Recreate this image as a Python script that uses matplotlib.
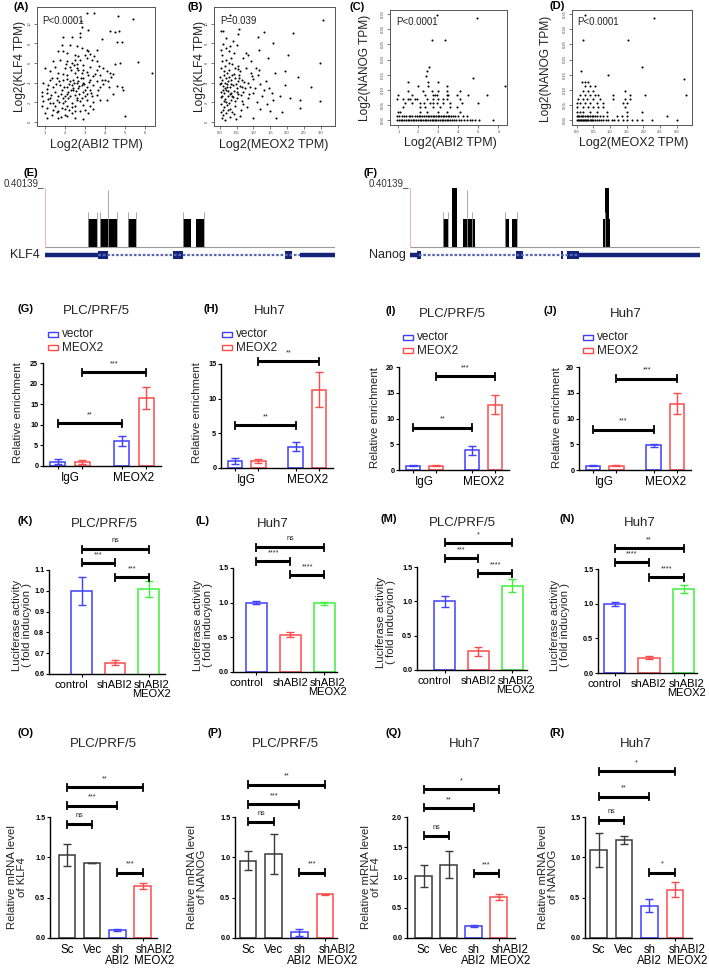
import matplotlib
matplotlib.use('Agg')
import matplotlib.pyplot as plt
import numpy as np

W, H = 709, 975
plt.rcParams['font.family'] = ['Liberation Sans', 'DejaVu Sans']
fig = plt.figure(figsize=(W / 100, H / 100), dpi=100)

# ---------------- data: scatter panels ----------------
pts_A = [(3.12,11.1),(3.47,11.1),(4.67,10.8),(5.42,10.5),(2.82,10.3),(2.83,9.7),(3.17,9.4),(4.25,9.3),(4.5,9.15),(4.7,9.3),
 (2.75,9.05),(1.92,8.7),(2.33,8.7),(2.75,8.7),(3.83,8.45),(4.58,8.1),(4.87,8.1),(1.83,7.85),(2.25,7.85),(2.58,7.7),
 (2.83,7.5),(3.08,7.35),(3.17,7.2),(1.67,7.2),(1.92,7.2),(2.08,7.0),(3.58,7.35),(2.5,6.85),(2.67,6.7),(3.0,6.85),(3.25,6.95),
 (1.42,6.2),(1.75,6.35),(2.08,6.2),(2.33,6.0),(2.5,6.35),(2.75,6.35),(3.08,6.5),(3.33,6.35),(3.58,6.2),(4.5,5.9),(4.75,6.0),(5.67,6.15),
 (1.5,5.65),(2.0,5.5),(2.25,5.65),(2.58,5.5),(2.92,5.3),(3.25,5.65),(3.58,5.3),(3.92,5.5),
 (1.0,5.5),(1.25,5.15),(1.67,5.0),(2.08,4.8),(2.5,5.0),(2.83,5.0),(3.17,4.8),(3.75,4.8),(4.08,5.15),(4.25,5.0),(4.42,4.9),(6.33,5.0),
 (1.25,4.3),(1.58,4.5),(1.92,4.3),(2.25,4.15),(2.42,4.3),(2.67,4.15),(2.92,4.5),(3.25,4.3),(3.58,4.15),(3.83,4.3),(4.0,4.3),(4.17,4.15),
 (0.92,3.95),(1.17,3.8),(1.42,3.6),(1.75,3.8),(2.08,3.6),(2.33,3.8),(2.58,3.95),(2.83,3.8),(3.08,3.6),(3.42,3.8),(3.75,3.6),(4.58,3.7),(4.83,3.55),
 (0.83,3.1),(1.08,2.95),(1.5,3.1),(1.83,3.3),(2.17,3.1),(2.42,3.3),(2.67,3.45),(2.92,3.1),(3.25,3.3),(3.58,2.8),(4.92,3.3),
 (0.83,2.6),(1.25,2.45),(1.67,2.6),(1.92,2.45),(2.25,2.6),(2.58,2.45),(3.0,2.6),(3.33,2.6),
 (0.92,2.1),(1.25,1.95),(1.58,2.25),(2.0,2.1),(2.33,1.95),(2.75,2.1),(3.08,2.25),(3.75,2.25),(4.08,2.25),
 (0.83,1.6),(1.08,1.4),(1.42,1.25),(1.83,1.4),(2.08,1.6),(2.5,1.6),(2.92,1.75),(3.25,1.6),
 (1.0,0.9),(1.33,0.75),(1.67,1.1),(2.0,0.75),(2.33,0.9),(2.75,1.1),(3.17,0.9),
 (1.08,0.4),(1.67,0.4),(2.08,0.6),(2.5,0.4),(2.92,0.3),(5.0,0.6),
 (2.2,3.9),(2.4,3.5),(2.6,4.6),(2.9,4.0),(3.0,3.3),(2.1,2.9),(1.9,4.9),(2.7,2.9),(3.4,4.7),(2.45,5.8),
 (1.7,2.0),(1.5,1.6),(2.2,1.2),(1.8,0.5),(2.65,5.3),(3.4,2.0),(2.05,5.9),(1.35,4.5),(3.9,3.9),(4.3,4.6),
 (1.12,3.4),(1.3,2.8),(1.55,3.9),(1.6,1.0),(1.78,2.9),(1.88,1.9),(1.95,3.6),(2.02,1.3),(2.12,4.4),(2.16,2.4),
 (2.28,3.3),(2.36,1.5),(2.44,4.0),(2.52,2.8),(2.56,3.2),(2.62,2.2),(2.7,3.7),(2.78,4.5),(2.86,2.4),(2.96,3.9),
 (3.02,1.2),(3.12,2.9),(3.2,4.1),(3.3,3.0),(3.38,1.3),(3.5,4.9),(3.66,3.3),(3.72,5.7),(4.2,3.6),(4.4,2.9),
 (1.15,2.3),(1.38,1.9),(1.72,4.2),(1.98,2.7),(2.3,5.3),(2.48,1.1),(2.58,5.9),(2.88,5.8),(3.1,5.1),(3.45,6.7)]
abi2_A = [p[0] for p in pts_A]
klf4_A = [p[1] for p in pts_A]

pts_B = [(0.3,10.9),(3.06,10.4),(0.03,9.3),(0.11,9.3),(0.58,9.45),(0.53,8.95),(1.33,9.2),(2.18,9.05),(1.15,8.65),(0.2,8.5),
 (0.4,8.2),(1.6,8.0),(0.1,7.9),(0.3,7.7),(0.5,7.8),(1.18,7.35),(0.03,7.35),(0.18,7.5),(0.28,7.2),(0.43,7.0),(0.78,7.0),
 (0.83,6.85),(1.43,6.5),(2.03,6.85),(2.98,6.0),(0.06,6.2),(0.18,6.35),(0.28,6.0),(0.38,5.9),(0.53,5.7),(0.68,6.5),(0.93,6.2),
 (1.08,5.5),(1.18,5.3),(1.63,5.0),(1.93,5.15),(2.33,4.6),(0.03,5.5),(0.13,5.15),(0.28,5.3),(0.43,4.9),(0.58,4.8),(0.78,5.5),
 (0.93,5.0),(1.13,4.8),(0.0,4.6),(0.08,4.3),(0.18,4.5),(0.25,4.15),(0.35,4.3),(0.45,4.5),(0.55,4.15),(0.65,4.3),(0.85,4.0),
 (1.0,4.4),(1.2,3.9),(1.38,4.2),(0.02,3.9),(0.1,3.7),(0.15,3.45),(0.22,3.9),(0.3,3.6),(0.4,3.8),(0.5,3.5),(0.6,3.7),(0.75,3.5),
 (0.9,3.6),(1.93,3.8),(2.73,3.6),(0.05,3.1),(0.12,2.95),(0.2,3.3),(0.33,3.0),(0.42,3.2),(0.55,2.9),(0.7,3.1),(1.0,3.0),(1.33,3.3),
 (1.48,3.45),(1.78,2.6),(2.08,2.45),(2.38,2.2),(2.98,2.1),(0.03,2.5),(0.15,2.3),(0.25,2.6),(0.35,2.2),(0.5,2.4),(0.65,2.1),
 (0.85,2.4),(1.1,2.0),(1.4,1.8),(1.6,2.2),(2.38,1.4),(0.05,1.8),(0.12,1.5),(0.22,1.7),(0.32,1.3),(0.45,1.6),(0.62,1.2),(0.8,1.5),
 (1.2,1.3),(1.5,1.1),(1.85,1.0),(0.03,1.0),(0.1,0.7),(0.2,0.9),(0.3,0.5),(0.42,0.8),(0.6,0.6),(0.48,0.3),(1.0,0.4),(1.68,0.4),
 (0.15,0.2),(0.08,0.45),(0.16,4.0),(0.24,3.2),(0.36,2.7),(0.12,2.1),(0.26,1.2),(0.44,5.5),(0.07,6.8),(0.33,6.5),(0.6,5.2),
 (0.04,4.0),(0.09,3.3),(0.14,4.8),(0.19,2.0),(0.21,3.6),(0.27,4.6),(0.31,2.9),(0.34,3.9),(0.38,4.8),(0.41,2.5),
 (0.47,3.9),(0.52,3.1),(0.57,4.5),(0.63,2.8),(0.67,3.6),(0.72,4.1),(0.06,2.7),(0.11,1.2),(0.17,5.7),(0.23,5.0),
 (0.29,1.9),(0.37,1.0),(0.46,2.1),(0.54,5.4),(0.7,1.8),(0.88,2.9),(0.95,4.7),(1.05,3.5),(1.25,2.7),(1.55,3.0)]
meox2_B = [p[0] for p in pts_B]
klf4_B = [p[1] for p in pts_B]

nanog_C_rows = {
    0.0: [0.93,1.02,1.12,1.19,1.3,1.38,1.47,1.55,1.63,1.72,1.8,1.9,1.97,2.06,2.14,2.23,2.31,2.4,2.48,2.57,2.66,2.74,2.83,
          2.9,3.0,3.08,3.17,3.25,3.34,3.42,3.5,3.6,3.68,3.77,3.9,4.03,4.15,4.3,4.42,4.58,4.7,4.83,5.05,5.75],
    0.0139: [0.93,1.05,1.17,1.28,1.4,1.52,1.6,1.7,1.82,1.93,2.02,2.1,2.2,2.3,2.38,2.47,2.55,2.63,2.72,2.8,2.88,2.97,3.05,
             3.13,3.22,3.3,3.38,3.47,3.55,3.65,3.75,3.85,4.0,4.25,4.45],
    0.0278: [1.0,1.1,2.08,2.42,3.0,3.42,4.08],
    0.0417: [1.25,2.08,2.33,2.75,3.08,3.58,3.92],
    0.0556: [1.33,1.67,2.08,2.3,2.58,2.75,2.92,3.25,3.58,4.17,5.0],
    0.0694: [0.92,1.25,1.5,1.6,1.83,1.95,2.42,2.75,3.0,3.25,3.42,4.08],
    0.0833: [1.0,1.67,2.33,2.72,2.83,2.92,3.42,3.5,3.92,4.5,5.42],
    0.0972: [1.5,2.25,2.67,3.0,3.42,4.08],
    0.111: [2.0,2.5,3.42,6.33],
    0.125: [1.5,2.5,3.0],
    0.139: [4.75],
}
extra_C = [(2.38,0.146),(2.45,0.163),(2.55,0.177),(2.67,0.265),(3.33,0.265),(2.95,0.348),(4.92,0.337)]
abi2_C = [x for yv, xs in nanog_C_rows.items() for x in xs] + [p[0] for p in extra_C]
nanog_C = [yv for yv, xs in nanog_C_rows.items() for x in xs] + [p[1] for p in extra_C]

nanog_D_rows = {
    0.0: [0.0,0.03,0.06,0.09,0.12,0.15,0.19,0.22,0.25,0.28,0.32,0.35,0.39,0.42,0.46,0.5,0.55,0.6,0.66,0.72,0.8,0.88,
          0.95,1.05,1.12,1.25,1.38,1.5,1.65,1.8,1.95,2.25,3.0],
    0.0139: [0.0,0.04,0.08,0.12,0.16,0.2,0.25,0.3,0.35,0.4,0.45,0.5,0.56,0.62,0.7,0.78,0.9,1.2,1.35,1.5,2.7],
    0.0278: [0.0,0.1,0.2,0.4,0.6,0.9,1.5,1.95],
    0.0417: [0.0,0.2,0.35,0.5,0.65,0.8,1.45],
    0.0556: [0.0,0.1,0.25,0.4,0.6,0.8,1.4,1.5],
    0.0694: [0.05,0.2,0.3,0.5,0.7,1.1,1.45,1.6],
    0.0833: [0.1,0.25,0.4,0.55,0.65,1.1,1.6,2.05,3.28],
    0.0972: [0.2,0.35,0.5,1.45],
    0.111: [0.25,0.4,0.55],
    0.125: [0.15,0.25,0.35],
}
extra_D = [(3.23,0.136),(0.93,0.149),(0.13,0.163),(1.95,0.177),(0.2,0.265),(1.53,0.265),(0.25,0.348),(2.33,0.337)]
meox2_D = [x for yv, xs in nanog_D_rows.items() for x in xs] + [p[0] for p in extra_D]
nanog_D = [yv for yv, xs in nanog_D_rows.items() for x in xs] + [p[1] for p in extra_D]

# ---------------- data: ChIP-seq tracks ----------------
track_max = 0.40139
klf4_bar_start = [43, 55, 83, 138, 151]
klf4_bar_width = [9, 17, 8, 8, 8]
klf4_bar_height = [0.19, 0.19, 0.19, 0.19, 0.19]
klf4_spike_pos = [43, 52, 55, 63, 72, 83, 91, 138, 159]
klf4_spike_h = [0.24, 0.24, 0.24, 0.39, 0.24, 0.24, 0.24, 0.24, 0.24]
klf4_utr = [(0, 53), (255, 290)]
klf4_exons = [(53, 10), (128, 10), (240, 7)]
klf4_span = (0, 290)

nanog_bar_start = [33, 42, 53, 95, 102, 193, 195]
nanog_bar_width = [5, 5, 12, 4, 5, 7, 4]
nanog_bar_height = [0.19, 0.40, 0.19, 0.19, 0.19, 0.19, 0.40]
nanog_spike_pos = [33, 38, 57, 62, 95, 107, 195]
nanog_spike_h = [0.24, 0.24, 0.39, 0.24, 0.24, 0.24, 0.24]
nanog_utr = [(0, 7), (169, 290)]
nanog_exons = [(7, 4), (106, 7), (151, 2), (157, 12)]
nanog_span = (0, 290)

# ---------------- data: bar panels ----------------
chip_groups = ['IgG', 'MEOX2']
G_vals = [1.0, 1.0, 6.0, 16.5];  G_err = [0.6, 0.5, 1.2, 2.6]
H_vals = [1.0, 1.0, 3.1, 11.3];  H_err = [0.4, 0.35, 0.7, 2.5]
I_vals = [0.85, 0.85, 3.8, 12.7]; I_err = [0.15, 0.12, 0.8, 1.8]
J_vals = [0.85, 0.85, 4.8, 12.9]; J_err = [0.12, 0.12, 0.3, 2.0]

luc_labels = ['control', 'shABI2', 'shABI2\nMEOX2']
K_vals = [1.0, 0.655, 1.008]; K_err = [0.068, 0.01, 0.04]
L_vals = [1.0, 0.54, 0.99];   L_err = [0.02, 0.03, 0.02]
M_vals = [1.0, 0.27, 1.23];   M_err = [0.08, 0.06, 0.09]
N_vals = [0.99, 0.22, 1.21];  N_err = [0.03, 0.02, 0.06]

qpcr_labels = ['Sc', 'Vec', 'sh\nABI2', 'shABI2\nMEOX2']
O_vals = [1.03, 0.93, 0.10, 0.645]; O_err = [0.14, 0.005, 0.01, 0.04]
P_vals = [0.96, 1.04, 0.07, 0.54];  P_err = [0.12, 0.25, 0.04, 0.01]
Q_vals = [1.02, 1.21, 0.20, 0.67];  Q_err = [0.18, 0.22, 0.02, 0.05]
R_vals = [1.09, 1.22, 0.40, 0.60];  R_err = [0.21, 0.05, 0.08, 0.09]

G_sig = [(0, 2, 10.4, '**'), (1, 3, 22.8, '***')]
H_sig = [(0, 2, 6.2, '**'), (1, 3, 15.4, '**')]
I_sig = [(0, 2, 8.2, '**'), (1, 3, 18.2, '***')]
J_sig = [(0, 2, 7.8, '***'), (1, 3, 17.7, '***')]
K_sig = [(0, 2, 1.20, 'ns'), (0, 1, 1.134, '***'), (1, 2, 1.066, '***')]
L_sig = [(0, 2, 1.80, 'ns'), (0, 1, 1.60, '****'), (1, 2, 1.40, '****')]
M_sig = [(0, 2, 1.85, '*'), (0, 1, 1.63, '***'), (1, 2, 1.41, '****')]
N_sig = [(0, 2, 1.80, '**'), (0, 1, 1.60, '****'), (1, 2, 1.38, '****')]
O_sig = [(0, 3, 1.87, '**'), (0, 2, 1.64, '***'), (0, 1, 1.41, 'ns'), (2, 3, 0.81, '***')]
P_sig = [(0, 3, 1.90, '**'), (0, 2, 1.66, '***'), (0, 1, 1.44, 'ns'), (2, 3, 0.81, '***')]
Q_sig = [(0, 3, 2.46, '*'), (0, 2, 2.15, '**'), (0, 1, 1.69, 'ns'), (2, 3, 1.07, '***')]
R_sig = [(0, 3, 2.07, '*'), (0, 2, 1.75, '**'), (0, 1, 1.46, 'ns'), (2, 3, 0.81, '*')]

BLUE, RED, GREEN, DARK = '#3f3fff', '#ff4a4a', '#3cf03c', '#3a3a3a'


def ax_px(l, t, r, b):
    return fig.add_axes([l / W, 1 - b / H, (r - l) / W, (b - t) / H])


def ftext(x, y, s, **kw):
    fig.text(x / W, 1 - y / H, s, **kw)


# ---------------- scatter panels ----------------
def scatter_panel(box, xs, ys, xlim, ylim, xticks, xtl, yticks, ytl):
    ax = ax_px(*box)
    ax.scatter(xs, ys, s=2.2, c='black', linewidths=0)
    ax.set_xlim(xlim)
    ax.set_ylim(ylim)
    ax.set_xticks(xticks)
    ax.set_xticklabels(xtl)
    ax.set_yticks(yticks)
    ax.set_yticklabels(ytl, rotation=90, va='center')
    ax.tick_params(labelsize=3, length=2, width=0.5, pad=1.5, colors='#444444')
    for s in ax.spines.values():
        s.set_linewidth(0.7)
        s.set_color('#555555')
    return ax


scatter_panel((37, 7, 155, 126), abi2_A, klf4_A, (0.6, 6.5), (-0.4, 11.7),
              [1, 2, 3, 4, 5, 6], ['1', '2', '3', '4', '5', '6'], [0, 2, 4, 6, 8, 10], ['0', '2', '4', '6', '8', '10'])
scatter_panel((214, 7, 335, 126), meox2_B, klf4_B, (-0.17, 3.43), (-0.4, 11.7),
              [0, 0.5, 1, 1.5, 2, 2.5, 3], ['0.0', '0.5', '1.0', '1.5', '2.0', '2.5', '3.0'],
              [0, 2, 4, 6, 8, 10], ['0', '2', '4', '6', '8', '10'])
cy = [0, 0.05, 0.1, 0.15, 0.2, 0.25, 0.3, 0.35]
cyl = ['0.00', '0.05', '0.10', '0.15', '0.20', '0.25', '0.30', '0.35']
scatter_panel((390, 10, 507, 125), abi2_C, nanog_C, (0.58, 6.43), (-0.0166, 0.364),
              [1, 2, 3, 4, 5, 6], ['1', '2', '3', '4', '5', '6'], cy, cyl)
scatter_panel((572, 10, 692, 125), meox2_D, nanog_D, (-0.14, 3.46), (-0.0166, 0.364),
              [0, 0.5, 1, 1.5, 2, 2.5, 3], ['0.0', '0.5', '1.0', '1.5', '2.0', '2.5', '3.0'], cy, cyl)

for (x, y, s) in [(13, 7, '(A)'), (188, 7, '(B)'), (350, 7, '(C)'), (550, 6, '(D)')]:
    ftext(x, y, s, fontsize=8, fontweight='bold', va='center', ha='left')
for (x, y, s) in [(42, 21, 'P<0.0001'), (220, 21, 'P=0.039'), (396, 22, 'P<0.0001'), (577, 22, 'P<0.0001')]:
    ftext(x, y, s, fontsize=7, va='center', ha='left', color='#222222')
for (x, y, s) in [(96, 145, 'Log2(ABI2 TPM)'), (274, 145, 'Log2(MEOX2 TPM)'),
                  (450, 143, 'Log2(ABI2 TPM)'), (634, 143, 'Log2(MEOX2 TPM)')]:
    ftext(x, y, s, fontsize=9, va='center', ha='center', color='#222222')
for (x, y, s) in [(20, 66, 'Log2(KLF4 TPM)'), (200, 66, 'Log2(KLF4 TPM)'),
                  (365, 68, 'Log2(NANOG TPM)'), (546, 69, 'Log2(NANOG TPM)')]:
    ftext(x, y, s, fontsize=8.6, va='center', ha='center', rotation=90, color='#222222')


# ---------------- track panels ----------------
NAVY = '#14237a'


def track_panel(box, starts, widths, heights, spos, sh, utr, exons, span, name, name_x):
    l, t, r, b = box
    ax = ax_px(l, t, r, b)
    per_px = track_max / 59.0
    ax.set_xlim(span[0], span[1])
    ax.set_ylim(-(b - 247) * per_px, track_max + (188 - t) * per_px)
    ax.vlines(spos, 0, sh, color='#9a9a9a', lw=0.6)
    ax.bar(starts, heights, width=widths, align='edge', color='black', linewidth=0)
    ax.axhline(0, color='#9a9a9a', lw=0.8)
    ax.plot([0, 0], [0, track_max], color='#f2b8b8', lw=0.8)
    gy = -8 * per_px
    ax.plot(span, [gy, gy], color='#5b67b5', lw=1.6, ls=(0, (1.2, 0.8)))
    for (s, e) in utr:
        ax.plot([s, e], [gy, gy], color=NAVY, lw=3.2, solid_capstyle='butt')
    ax.bar([e[0] for e in exons], [8 * per_px] * len(exons), width=[e[1] for e in exons],
           bottom=gy - 4 * per_px, align='edge', color=NAVY, linewidth=0)
    ax.axis('off')
    ax.text(-1, track_max, '0.40139_', ha='right', va='bottom', fontsize=7, color='#333333')
    ftext(name_x, 255, name, fontsize=9, ha='right', va='center', color='#222222')


track_panel((45, 185, 335, 262), klf4_bar_start, klf4_bar_width, klf4_bar_height, klf4_spike_pos,
            klf4_spike_h, klf4_utr, klf4_exons, klf4_span, 'KLF4', 40)
track_panel((410, 185, 700, 262), nanog_bar_start, nanog_bar_width, nanog_bar_height, nanog_spike_pos,
            nanog_spike_h, nanog_utr, nanog_exons, nanog_span, 'Nanog', 406)
ftext(23, 173, '(E)', fontsize=8, fontweight='bold', ha='left', va='center')
ftext(363, 173, '(F)', fontsize=8, fontweight='bold', ha='left', va='center')


# ---------------- bar panels ----------------
def bar_panel(box, pos, vals, errs, colors, xlim, ylim, yticks, ytl, lab_pos, xtl, sigs, width, xfs):
    l, t, r, b = box
    ax = ax_px(l, t, r, b)
    ax.set_xlim(xlim)
    ax.set_ylim(ylim)
    ppu = (b - t) / (ylim[1] - ylim[0])
    for p, v, e, c in zip(pos, vals, errs, colors):
        ax.bar([p], [v], width=width, facecolor='none', edgecolor=c, linewidth=1.1)
        ax.errorbar([p], [v], yerr=[e], fmt='none', ecolor=c, elinewidth=1.0, capsize=3.2, capthick=1.0)
    for (i, j, y, s) in sigs:
        d = 3.5 / ppu
        ax.plot([pos[i], pos[j]], [y, y], color='black', lw=2.2, clip_on=False, solid_capstyle='butt')
        for k in (i, j):
            ax.plot([pos[k], pos[k]], [y - d, y + d], color='black', lw=1.3, clip_on=False)
        ax.text((pos[i] + pos[j]) / 2, y + 5 / ppu, s, ha='center', va='bottom', fontsize=5.2,
                clip_on=False, color='#222222')
    ax.spines['top'].set_visible(False)
    ax.spines['right'].set_visible(False)
    for s in ('left', 'bottom'):
        ax.spines[s].set_linewidth(1.0)
    ax.set_yticks(yticks)
    ax.set_yticklabels(ytl, fontsize=5.2, fontweight='bold')
    ax.set_xticks(lab_pos)
    ax.set_xticklabels(xtl, fontsize=xfs, linespacing=0.95)
    ax.tick_params(axis='y', length=2.2, width=0.8, pad=1.2)
    ax.tick_params(axis='x', which='major', length=0, pad=4)
    ax.set_xticks(pos, minor=True)
    ax.tick_params(axis='x', which='minor', length=2.5, width=0.8)
    return ax


chip_pos = [0, 1, 2.6, 3.6]
chip_cols = [BLUE, RED, BLUE, RED]
chip_xt = [0.5, 3.1]
g_boxes = [(43, 363, 161, 466), (221, 364, 333, 468), (399, 367, 509, 470), (579, 367, 691, 470)]
g_ylims = [(0, 25), (0, 15), (0, 20), (0, 20)]
g_yt = [[0, 5, 10, 15, 20, 25], [0, 5, 10, 15], [0, 5, 10, 15, 20], [0, 5, 10, 15, 20]]
for box, vals, errs, yl, yt, sg in zip(g_boxes, [G_vals, H_vals, I_vals, J_vals], [G_err, H_err, I_err, J_err],
                                       g_ylims, g_yt, [G_sig, H_sig, I_sig, J_sig]):
    bar_panel(box, chip_pos, vals, errs, chip_cols, (-0.6, 4.2), yl, yt, [str(v) for v in yt],
              chip_xt, chip_groups, sg, 0.62, 8.5)

# legends for G-J
for (hx, y1) in [(48, 334), (222, 334), (403, 337), (583, 337)]:
    for k, (lab, c) in enumerate([('vector', BLUE), ('MEOX2', RED)]):
        yy = y1 + 13.5 * k
        fig.patches.append(plt.Rectangle((hx / W, 1 - (yy + 2.5) / H), 10 / W, 5 / H, transform=fig.transFigure,
                                         facecolor='none', edgecolor=c, linewidth=1.0))
        ftext(hx + 14, yy, lab, fontsize=8.5, ha='left', va='center', color='#222222')

# K-N
luc_cols = [BLUE, RED, GREEN]
luc_lab_pos = [-0.3, 1.0, 2.08]
k_boxes = [(49, 570, 165, 674), (233, 568, 337, 672), (417, 567, 527, 670), (598, 569, 697, 673)]
k_xlims = [(-0.97, 2.49), (-0.69, 2.37), (-0.81, 2.43), (-0.48, 2.39)]
k_ylims = [(0.6, 1.1), (0, 1.5), (0, 1.5), (0, 1.5)]
k_yt = [[0.6, 0.7, 0.8, 0.9, 1.0, 1.1], [0, 0.5, 1.0, 1.5], [0, 0.5, 1.0, 1.5], [0, 0.5, 1.0, 1.5]]
for box, xl, vals, errs, yl, yt, sg in zip(k_boxes, k_xlims, [K_vals, L_vals, M_vals, N_vals],
                                           [K_err, L_err, M_err, N_err], k_ylims, k_yt,
                                           [K_sig, L_sig, M_sig, N_sig]):
    bar_panel(box, [0, 1, 2], vals, errs, luc_cols, xl, yl, yt, ['%.1f' % v for v in yt],
              luc_lab_pos, luc_labels, sg, 0.62, 8)

# O-R
q_cols = [DARK, DARK, BLUE, RED]
q_lab_pos = [0, 1, 2, 3.47]
o_boxes = [(50, 817, 157, 938), (235, 817, 337, 938), (407, 817, 515, 938), (585, 817, 692, 938)]
o_xlims = [(-0.67, 3.57), (-0.51, 3.46), (-0.66, 3.66), (-0.53, 3.67)]
o_ylims = [(0, 1.5), (0, 1.5), (0, 2.0), (0, 1.5)]
o_yt = [[0, 0.5, 1.0, 1.5], [0, 0.5, 1.0, 1.5], [0, 0.5, 1.0, 1.5, 2.0], [0, 0.5, 1.0, 1.5]]
for box, xl, vals, errs, yl, yt, sg in zip(o_boxes, o_xlims, [O_vals, P_vals, Q_vals, R_vals],
                                           [O_err, P_err, Q_err, R_err], o_ylims, o_yt,
                                           [O_sig, P_sig, Q_sig, R_sig]):
    bar_panel(box, [0, 1, 2, 3], vals, errs, q_cols, xl, yl, yt, ['%.1f' % v for v in yt],
              q_lab_pos, qpcr_labels, sg, 0.65, 8.3)

# panel labels / titles
panel_titles = [
    ('(G)', 18, 309, 'PLC/PRF/5', 96, 311), ('(H)', 203, 309, 'Huh7', 270, 311),
    ('(I)', 385, 311, 'PLC/PRF/5', 452, 314), ('(J)', 543, 311, 'Huh7', 626, 314),
    ('(K)', 17, 521, 'PLC/PRF/5', 104, 524), ('(L)', 195, 521, 'Huh7', 273, 524),
    ('(M)', 380, 519, 'PLC/PRF/5', 462, 523), ('(N)', 560, 519, 'Huh7', 640, 523),
    ('(O)', 17, 733, 'PLC/PRF/5', 103, 744), ('(P)', 207, 733, 'PLC/PRF/5', 285, 744),
    ('(Q)', 385, 733, 'Huh7', 465, 744), ('(R)', 550, 733, 'Huh7', 636, 744),
]
for (lab, lx, ly, tt, tx, ty) in panel_titles:
    ftext(lx, ly, lab, fontsize=8, fontweight='bold', ha='left', va='center')
    ftext(tx, ty, tt, fontsize=9.5, ha='center', va='center', color='#222222')

ylabels = [
    (18, 413, 'Relative enrichment'), (197, 413, 'Relative enrichment'),
    (375, 418, 'Relative enrichment'), (557, 418, 'Relative enrichment'),
    (22, 625, 'Luciferase activity\n( fold inducyion )'), (203, 625, 'Luciferase activity\n( fold inducyion )'),
    (386, 622, 'Luciferase activity\n( fold inducyion )'), (560, 625, 'Luciferase activity\n( fold inducyion )'),
    (17, 877, 'Relative mRNA level\nof KLF4'), (197, 877, 'Relative mRNA level\nof NANOG'),
    (371, 877, 'Relative mRNA level\nof KLF4'), (548, 877, 'Relative mRNA level\nof NANOG'),
]
for (x, y, s) in ylabels:
    ftext(x, y, s, fontsize=8.2, rotation=90, ha='center', va='center', linespacing=1.05, color='#222222')

fig.savefig('out.png', dpi=100, facecolor='white')
